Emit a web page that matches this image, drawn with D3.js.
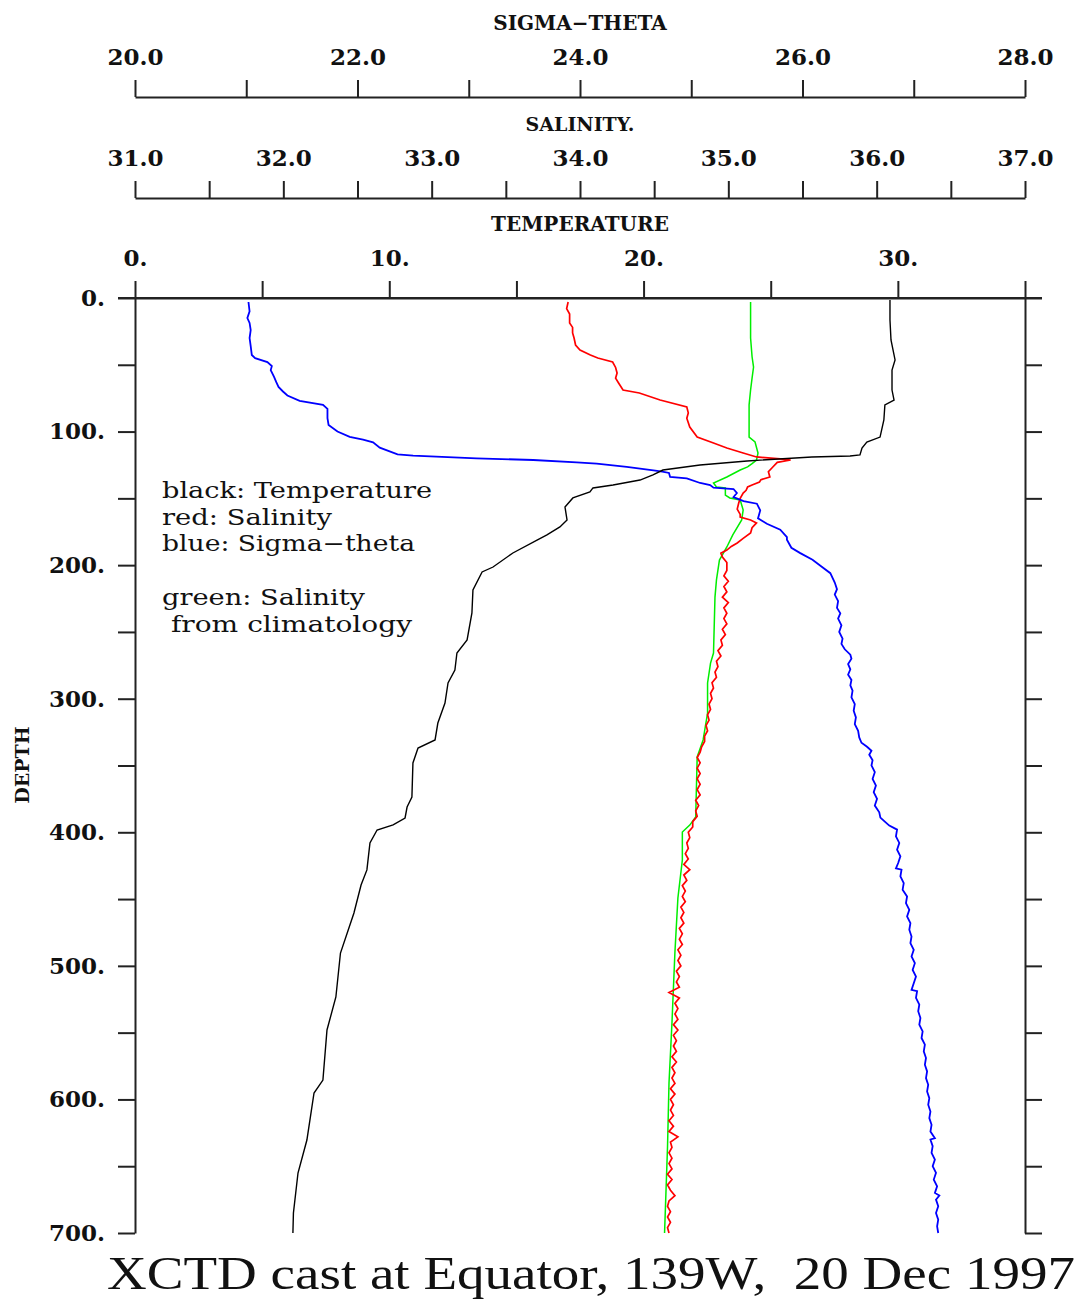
<!DOCTYPE html>
<html>
<head>
<meta charset="utf-8">
<script src="https://cdn.jsdelivr.net/npm/d3@7"></script>
<style>
  html, body { margin: 0; padding: 0; background: #ffffff; }
  svg { display: block; }
</style>
</head>
<body>
<script>
// ---------------- DATA ----------------
// Temperature (black), depth in m, temperature in deg C
const tempDepth = [1.5,16.5,31.4,46.4,53.9,68.9,76.4,80.1,91.3,104.1,107.8,112.3,117.5,118.3,119.0,122.0,125.0,128.8,132.5,136.3,140.0,142.2,145.2,149.7,156.5,166.2,171.4,177.4,181.2,190.9,201.4,205.1,218.6,235.8,256.0,265.8,278.5,288.2,303.2,318.2,330.9,336.9,348.1,373.6,381.1,389.3,394.5,398.3,408.0,428.2,439.5,460.4,490.4,523.3,548.0,585.5,595.2,630.4,655.1,685.0,700];
const tempValues = [29.69,29.69,29.73,29.89,29.77,29.77,29.85,29.49,29.45,29.30,28.78,28.59,28.51,28.12,26.62,24.07,22.22,20.76,20.37,19.86,18.80,18.01,17.89,17.22,16.91,16.99,16.71,16.20,15.81,14.86,14.08,13.65,13.29,13.25,13.06,12.66,12.58,12.31,12.19,11.91,11.80,11.13,10.93,10.89,10.70,10.62,10.15,9.52,9.24,9.12,8.89,8.61,8.08,7.90,7.55,7.39,7.04,6.76,6.41,6.23,6.21];

// Salinity (red)
const salDepth = [
  3,8,12,18.7,22,26.2,30,35.2,38.9,42.7,
  44.9,47.9,52,56.2,60,63.6,68.9,71.1,76.4,81.6,
  86,90,96.6,104.1,108.6,112.3,116,119,120.5,121.3,
  123,126.5,130,134,136,137.8,140,141.5,144,146,
  150,153.5,158,162,164,166.2,168.4,172,175.9,180,
  183.4,186,188.7,191,193.9,198,
  204,208,212,216,220,224,228,232,236,240,
  244,248,252,256,260,264,268,272,276,280,
  284,288,292,296,300,304,308,312,316,320,
  324,328,332,336,340,344,348,352,356,360,
  364,368,372,376,380,384,388,392,396,400,
  404,408,412,416,420,424,428,432,436,440,
  444,448,452,456,460,464,468,472,476,480,
  484,488,492,496,500,504,508,512,516,520,
  524,528,532,536,540,544,548,552,556,560,
  564,568,572,576,580,584,588,592,596,600,
  604,608,612,616,620,624,628,632,636,640,
  644,648,652,656,660,664,668,672,676,680,
  684,688,692,696,700];
const salValues = [
  33.92,33.91,33.93,33.93,33.95,33.95,33.96,33.97,34.00,34.07,
  34.12,34.22,34.24,34.25,34.24,34.26,34.29,34.40,34.54,34.72,
  34.73,34.72,34.74,34.79,34.90,34.99,35.10,35.19,35.35,35.42,
  35.33,35.30,35.27,35.28,35.22,35.21,35.16,35.13,35.12,35.10,
  35.08,35.07,35.06,35.08,35.08,35.15,35.19,35.16,35.15,35.10,
  35.06,35.02,34.99,34.95,34.96,34.99,
  34.99,34.97,35.00,34.97,34.99,34.96,35.00,34.97,34.99,34.97,
  34.99,34.96,34.98,34.95,34.96,34.93,34.95,34.92,34.93,34.91,
  34.92,34.89,34.90,34.88,34.89,34.87,34.88,34.86,34.87,34.85,
  34.86,34.84,34.84,34.82,34.81,34.79,34.81,34.79,34.81,34.79,
  34.81,34.79,34.81,34.78,34.80,34.78,34.79,34.76,34.76,34.73,
  34.74,34.72,34.73,34.71,34.73,34.70,34.74,34.70,34.72,34.69,
  34.71,34.69,34.71,34.68,34.70,34.68,34.70,34.67,34.69,34.67,
  34.69,34.66,34.68,34.66,34.68,34.65,34.67,34.65,34.67,34.60,
  34.67,34.64,34.66,34.64,34.66,34.63,34.66,34.63,34.65,34.63,
  34.65,34.62,34.65,34.62,34.64,34.62,34.64,34.61,34.64,34.61,
  34.63,34.61,34.63,34.60,34.63,34.60,34.66,34.61,34.62,34.60,
  34.62,34.60,34.62,34.59,34.62,34.59,34.61,34.64,34.60,34.59,
  34.61,34.59,34.61,34.59,34.60];

// Sigma-theta (blue)
const sigDepth = [3,10,15,18.7,24,30,36,42.7,45,48,51,54,59,63,66.6,70,73,77,80,83,90,95,100,104,106,108,112,117,118,120,121.3,123,124,126.5,129,130,131,134,135,138.5,140,142,143,146,149,152,154,159,165,169,173.5,179,181,187,191,196,201,206,213,218,222,227,232,236,240,245,250,255,259,263,267,270,274,278,282,286,290,294,299,304,309,314,319,324,329,333,336,339,342,346,350,355,360,365,370,375,380,385,389,392,395,398,403,408,413,418,423,427,428,433,438,443,448,453,458,463,468,473,478,483,488,493,498,503,508,513,518,519,524,529,534,539,544,549,554,559,564,569,574,579,584,589,594,599,604,609,614,619,624,629,630,635,640,645,650,655,660,665,670,672,675,680,685,690,695,700];
const sigValues = [21.02,21.03,21.01,21.03,21.04,21.03,21.04,21.05,21.08,21.19,21.23,21.22,21.25,21.27,21.29,21.33,21.37,21.48,21.69,21.73,21.73,21.74,21.82,21.93,22.05,22.14,22.20,22.36,22.50,23.07,23.58,23.97,24.15,24.42,24.66,24.74,24.80,24.81,24.96,25.08,25.17,25.20,25.38,25.41,25.38,25.47,25.59,25.62,25.60,25.68,25.80,25.86,25.86,25.90,25.98,26.09,26.17,26.25,26.29,26.31,26.29,26.32,26.31,26.34,26.32,26.35,26.33,26.36,26.35,26.38,26.43,26.44,26.41,26.43,26.41,26.44,26.43,26.45,26.44,26.47,26.46,26.48,26.47,26.50,26.51,26.53,26.58,26.62,26.60,26.63,26.62,26.65,26.63,26.66,26.64,26.67,26.65,26.69,26.70,26.74,26.78,26.85,26.84,26.87,26.85,26.88,26.86,26.84,26.89,26.88,26.91,26.90,26.94,26.93,26.96,26.94,26.97,26.96,26.98,26.97,27.00,26.98,27.01,26.99,27.02,27.00,26.98,27.03,27.02,27.05,27.04,27.06,27.05,27.08,27.07,27.10,27.09,27.11,27.10,27.12,27.11,27.13,27.12,27.14,27.13,27.15,27.14,27.16,27.15,27.19,27.15,27.17,27.16,27.19,27.17,27.20,27.18,27.21,27.19,27.23,27.20,27.22,27.20,27.22,27.21,27.22];

// Salinity from climatology (green)
const climDepth = [3,18.7,30,44,51.7,60,68.9,80,104.1,107.8,116,121.3,124,126.5,128.8,134,138.5,141.5,142.2,147.5,149.7,151.2,158.7,166.2,177.4,186.4,196.2,211,223.9,265.8,273.3,288.2,310.7,330.9,343.6,388.6,394.6,399.8,420.8,449.2,489.6,542.8,587.7,635.6,700];
const climValues = [35.15,35.15,35.15,35.16,35.17,35.16,35.15,35.14,35.14,35.18,35.20,35.19,35.16,35.13,35.08,34.99,34.90,34.92,34.98,34.98,35.01,35.08,35.10,35.09,35.03,34.99,34.94,34.92,34.91,34.90,34.88,34.86,34.86,34.83,34.79,34.78,34.74,34.69,34.69,34.66,34.64,34.62,34.60,34.59,34.57];

// Tick values
const depthTicks = [0,50,100,150,200,250,300,350,400,450,500,550,600,650,700];
const tempTicks = [0,5,10,15,20,25,30,35];
const salTicks = [31,31.5,32,32.5,33,33.5,34,34.5,35,35.5,36,36.5,37];
const sigTicks = [20,21,22,23,24,25,26,27,28];

const legendLines = ["black: Temperature","red: Salinity","blue: Sigma\u2212theta","green: Salinity"," from climatology"];
const titleText = "XCTD cast at Equator, 139W,  20 Dec 1997";

// ---------------- LAYOUT ----------------
const W = 1081, H = 1299;
const L = 135, R = 1025, T = 298, B = 1233;
const FONT = "'DejaVu Serif', 'Liberation Serif', serif";
const AXC = "#222";

const svg = d3.select("body").append("svg").attr("width", W).attr("height", H)
  .style("font-family", FONT);

const xT = d3.scaleLinear().domain([0, 35]).range([L, R]);
const xS = d3.scaleLinear().domain([31, 37]).range([L, R]);
const xG = d3.scaleLinear().domain([20, 28]).range([L, R]);
const y = d3.scaleLinear().domain([0, 700]).range([T, B]);

function styleAxis(g, fs) {
  g.selectAll("path.domain").attr("stroke", AXC).attr("stroke-width", 2);
  g.selectAll(".tick line").attr("stroke", AXC).attr("stroke-width", 2);
  g.selectAll(".tick text").attr("fill", "#111").style("font-family", FONT)
    .style("font-size", fs + "px").style("font-weight", "bold");
  g.attr("font-family", null).attr("font-size", null);
}

// Sigma-theta axis
const gSig = svg.append("g").attr("transform", `translate(0,97)`)
  .call(d3.axisTop(xG).tickValues(sigTicks).tickSize(17).tickSizeOuter(0).tickPadding(15)
    .tickFormat(d => (d % 2 === 0) ? d3.format(".1f")(d) : ""));
styleAxis(gSig, 23);

// Salinity axis
const gSal = svg.append("g").attr("transform", `translate(0,198)`)
  .call(d3.axisTop(xS).tickValues(salTicks).tickSize(17).tickSizeOuter(0).tickPadding(15)
    .tickFormat(d => Number.isInteger(d) ? d3.format(".1f")(d) : ""));
styleAxis(gSal, 23);

// Temperature axis
const gTmp = svg.append("g").attr("transform", `translate(0,${T})`)
  .call(d3.axisTop(xT).tickValues(tempTicks).tickSize(17).tickSizeOuter(0).tickPadding(15)
    .tickFormat(d => (d % 10 === 0 && d < 35) ? d + "." : ""));
styleAxis(gTmp, 23);
// top line extending past the frame
svg.append("line").attr("x1", L - 17).attr("x2", R + 17).attr("y1", T).attr("y2", T)
  .attr("stroke", AXC).attr("stroke-width", 2);

// Depth axis (left)
const gDep = svg.append("g").attr("transform", `translate(${L},0)`)
  .call(d3.axisLeft(y).tickValues(depthTicks).tickSize(17).tickSizeOuter(0).tickPadding(13)
    .tickFormat(d => d % 100 === 0 ? d + "." : ""));
styleAxis(gDep, 23);

// Right axis
const gRt = svg.append("g").attr("transform", `translate(${R},0)`)
  .call(d3.axisRight(y).tickValues(depthTicks).tickSize(17).tickSizeOuter(0).tickFormat(""));
styleAxis(gRt, 23);

// Axis titles
svg.append("text").attr("x", 580).attr("y", 30).attr("text-anchor", "middle")
  .style("font-size", "20px").style("font-weight", "bold").attr("fill", "#111").text("SIGMA\u2212THETA");
svg.append("text").attr("x", 580).attr("y", 131).attr("text-anchor", "middle")
  .style("font-size", "19px").style("font-weight", "bold").attr("fill", "#111").text("SALINITY.");
svg.append("text").attr("x", 580).attr("y", 231).attr("text-anchor", "middle")
  .style("font-size", "20px").style("font-weight", "bold").attr("fill", "#111").text("TEMPERATURE");
svg.append("text").attr("transform", "translate(29,765) rotate(-90)").attr("text-anchor", "middle")
  .style("font-size", "19px").style("font-weight", "bold").attr("fill", "#111").text("DEPTH");

// ---------------- PROFILES ----------------
const clip = svg.append("clipPath").attr("id", "plotclip").append("rect")
  .attr("x", L).attr("y", T).attr("width", R - L).attr("height", B - T + 2);
const plot = svg.append("g").attr("clip-path", "url(#plotclip)");

function profile(depths, values, xs, color, w) {
  const data = d3.zip(depths, values);
  plot.append("path").datum(data)
    .attr("fill", "none").attr("stroke", color).attr("stroke-width", w)
    .attr("stroke-linejoin", "miter")
    .attr("d", d3.line().x(d => xs(d[1])).y(d => y(d[0])));
}
profile(climDepth, climValues, xS, "#00ee00", 1.5);
profile(salDepth, salValues, xS, "#ff0000", 1.7);
profile(sigDepth, sigValues, xG, "#0000ff", 1.8);
profile(tempDepth, tempValues, xT, "#000000", 1.4);

// ---------------- LEGEND TEXT ----------------
const legendX = [162,162,162,162,162];
const legendY = [498,525,551,605,632];
const legendW = [270,170,253,203,250];
legendLines.forEach((t, i) => {
  svg.append("text").attr("x", legendX[i]).attr("y", legendY[i])
    .attr("xml:space", "preserve").style("white-space", "pre")
    .attr("textLength", legendW[i]).attr("lengthAdjust", "spacingAndGlyphs")
    .style("font-size", "22px").attr("fill", "#111").text(t);
});

// ---------------- TITLE ----------------
svg.append("text").attr("x", 107).attr("y", 1289)
  .style("white-space", "pre")
  .attr("textLength", 968).attr("lengthAdjust", "spacingAndGlyphs")
  .style("font-family", "'Liberation Serif', 'DejaVu Serif', serif")
  .style("font-size", "47px").attr("fill", "#111").text(titleText);
</script>
</body>
</html>
